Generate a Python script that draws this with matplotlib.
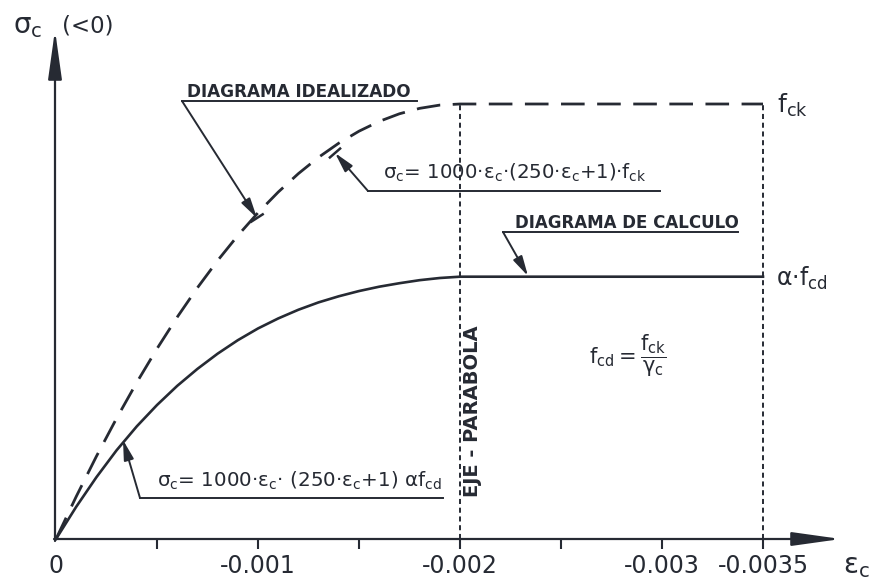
import matplotlib
matplotlib.use("Agg")
import matplotlib.pyplot as plt
from matplotlib.patches import ArrowStyle
import numpy as np

plt.rcParams['font.family'] = ['DejaVu Sans']
plt.rcParams['mathtext.fontset'] = 'dejavusans'
plt.rcParams['mathtext.default'] = 'regular'

INK = '#262a33'

# ---- data (stress relative to f_ck, strain negative = compression) ----
strain = [0, -0.0001, -0.0002, -0.0003, -0.0004, -0.0005, -0.0006, -0.0007,
          -0.0008, -0.0009, -0.0010, -0.0011, -0.0012, -0.0013, -0.0014,
          -0.0015, -0.0016, -0.0017, -0.0018, -0.0019, -0.0020, -0.0035]
sigma_ideal = [0, 0.0975, 0.19, 0.2775, 0.36, 0.4375, 0.51, 0.5775, 0.64, 0.6975,
               0.75, 0.7975, 0.84, 0.8775, 0.91, 0.9375, 0.96, 0.9775, 0.99,
               0.9975, 1.0, 1.0]
sigma_calc = [0, 0.074, 0.142, 0.204, 0.259, 0.308, 0.352, 0.391, 0.426, 0.457,
              0.484, 0.507, 0.527, 0.544, 0.558, 0.570, 0.580, 0.588, 0.595,
              0.600, 0.603, 0.603]
minor_ticks = [-0.0005, -0.0010, -0.0015, -0.0020, -0.0025, -0.0030, -0.0035]
label_pos = [0, -0.001, -0.002, -0.003, -0.0035]
tick_labels = ['0', '-0.001', '-0.002', '-0.003', '-0.0035']
eps_parabola = -0.002
eps_ultimate = -0.0035
f_ck = 1.0

SX = 202000.0  # px per unit strain
SY = 435.0     # px per unit stress

fig = plt.figure(figsize=(8.84, 5.79), dpi=100)
ax = fig.add_axes([0, 0, 1, 1])
ax.set_xlim(56 / SX, -(884 - 56) / SX)
ax.set_ylim(-(579 - 539) / SY, 539 / SY)
ax.axis('off')


def P(px, py):
    """reference pixel -> data coords (for annotation placement)"""
    return (-(px - 56) / SX, (539 - py) / SY)


# axes with arrows
ax.annotate('', xy=P(841, 539), xytext=P(54, 539),
            arrowprops=dict(arrowstyle=ArrowStyle('-|>', head_length=2.0, head_width=0.28),
                            mutation_scale=15, color=INK, lw=1.6,
                            shrinkA=0, shrinkB=0))
ax.annotate('', xy=P(55, 30), xytext=P(55, 541),
            arrowprops=dict(arrowstyle=ArrowStyle('-|>', head_length=2.0, head_width=0.28),
                            mutation_scale=15, color=INK, lw=1.6,
                            shrinkA=0, shrinkB=0))

# ticks
for t in minor_ticks:
    ax.plot([t, t], [0, -0.024], color=INK, lw=1.5, solid_capstyle='butt')
for t, lab in zip(label_pos, tick_labels):
    ax.text(t, P(0, 566)[1], lab, fontsize=17, color=INK, ha='center', va='center')

# curves
ax.plot(strain, sigma_ideal, color=INK, lw=2.0, dashes=(8.5, 4.5),
        dash_capstyle='butt', solid_joinstyle='round')
ax.plot(strain, sigma_calc, color=INK, lw=1.9, solid_joinstyle='round')

# dotted verticals
for e in (eps_parabola, eps_ultimate):
    ax.plot([e, e], [0, f_ck], color=INK, lw=1.4, dashes=(2.6, 1.9))

# axis labels
ax.text(*P(13, 33), r'$\sigma_c$', fontsize=20, color=INK, ha='left', va='baseline')
ax.text(*P(62, 26), '(<0)', fontsize=16.5, color=INK, ha='left', va='center')
ax.text(*P(843, 573), r'$\varepsilon_c$', fontsize=20, color=INK, ha='left', va='baseline')

# right labels
ax.text(*P(777, 113), r'$f_{ck}$', fontsize=18, color=INK, ha='left', va='baseline')
ax.text(*P(776, 286), r'$\alpha{\cdot}f_{cd}$', fontsize=17, color=INK, ha='left', va='baseline')

# EJE - PARABOLA
ax.text(*P(473, 411), 'EJE - PARABOLA', fontsize=14, color=INK, rotation=90,
        ha='center', va='center', fontweight='bold')

# fcd = fck / gamma_c
ax.text(*P(628, 356), r'$f_{cd}{=}\dfrac{f_{ck}}{\gamma_c}$', fontsize=15, color=INK,
        ha='center', va='center')

arrow_style = ArrowStyle('-|>', head_length=1.0, head_width=0.25)


def leader(start, tip, bar=False):
    ax.annotate('', xy=P(*tip), xytext=P(*start),
                arrowprops=dict(arrowstyle=arrow_style, mutation_scale=12,
                                color=INK, lw=1.4, shrinkA=0, shrinkB=0))
    if bar:
        dx, dy = tip[0] - start[0], tip[1] - start[1]
        n = np.hypot(dx, dy)
        ux, uy = -dy / n, dx / n
        a = P(tip[0] - 8 * ux, tip[1] - 8 * uy)
        b = P(tip[0] + 8 * ux, tip[1] + 8 * uy)
        ax.plot([a[0], b[0]], [a[1], b[1]], color=INK, lw=1.8, solid_capstyle='butt')


def underline(x0, x1, y):
    a, b = P(x0, y), P(x1, y)
    ax.plot([a[0], b[0]], [a[1], b[1]], color=INK, lw=1.4)


# DIAGRAMA IDEALIZADO
ax.text(*P(187, 97), 'DIAGRAMA IDEALIZADO', fontsize=12.2, fontweight='bold',
        color=INK, ha='left', va='baseline')
underline(182, 417, 101)
leader((182, 101), (257, 218), bar=True)

# formula idealized
ax.text(*P(383, 179),
        r'$\sigma_c$= 1000·$\varepsilon_c$·(250·$\varepsilon_c$+1)·$f_{ck}$',
        fontsize=14.2, color=INK, ha='left', va='baseline')
underline(368, 660, 191)
leader((368, 191), (335, 153), bar=True)

# DIAGRAMA DE CALCULO
ax.text(*P(515, 228), 'DIAGRAMA DE CALCULO', fontsize=12, fontweight='bold',
        color=INK, ha='left', va='baseline')
underline(503, 738, 232)
leader((503, 232), (528, 276))

# formula calc
ax.text(*P(157, 487),
        r'$\sigma_c$= 1000·$\varepsilon_c$· (250·$\varepsilon_c$+1) $\alpha f_{cd}$',
        fontsize=14.3, color=INK, ha='left', va='baseline')
underline(140, 443, 498)
leader((140, 498), (123, 440))

fig.savefig('out.png', dpi=100, facecolor='white')
